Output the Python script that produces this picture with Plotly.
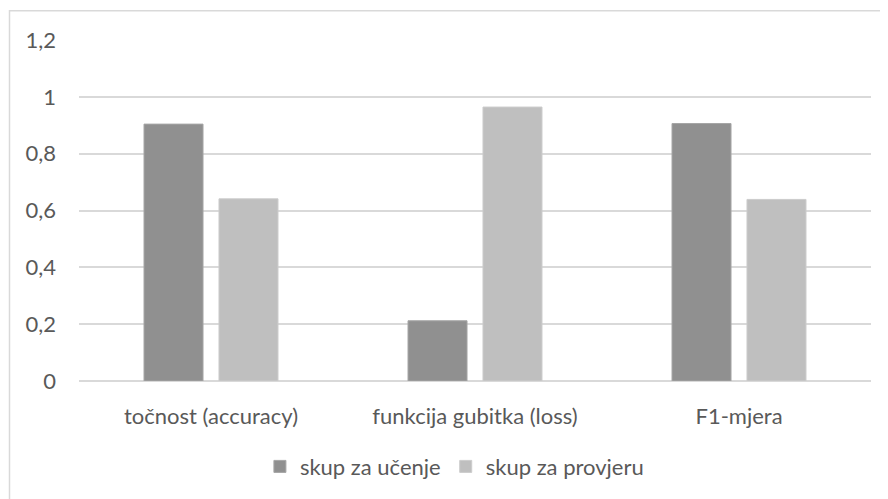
import plotly.graph_objects as go

categories = ["točnost (accuracy)", "funkcija gubitka (loss)", "F1-mjera"]
train_vals = [0.904, 0.212, 0.906]
val_vals = [0.641, 0.964, 0.639]
series_names = ["skup za učenje", "skup za provjeru"]
y_ticks = [0, 0.2, 0.4, 0.6, 0.8, 1.0, 1.2]
y_tick_labels = ["0", "0,2", "0,4", "0,6", "0,8", "1", "1,2"]

# page body has an 8px margin, so the figure is drawn 8px in from the window edge
W, H = 880, 491
L, R, T, B = 71, 17, 32, 116
pw, ph = W - L - R, H - T - B

fig = go.Figure()
fig.add_trace(go.Bar(x=categories, y=train_vals, name=series_names[0],
                     marker=dict(color="#909090", line=dict(color="#a6a6a6", width=1))))
fig.add_trace(go.Bar(x=categories, y=val_vals, name=series_names[1],
                     marker=dict(color="#bfbfbf", line=dict(color="#cccccc", width=1))))

font = dict(family="Lato, Open Sans, sans-serif", size=22, color="#595959")
legend_font = dict(family="Lato, Open Sans, sans-serif", size=22, color="#595959")

fig.update_layout(
    width=W, height=H,
    margin=dict(l=L, r=R, t=T, b=B),
    paper_bgcolor="white", plot_bgcolor="white",
    barmode="group", bargap=0.432, bargroupgap=0.213,
    font=font,
    showlegend=True,
    legend=dict(orientation="h", x=0.474, xanchor="center", y=-0.251, yanchor="middle",
                font=legend_font, itemwidth=30, traceorder="normal"),
    xaxis=dict(showgrid=False, showline=False, zeroline=False, ticks="",
               tickfont=font, ticklabelstandoff=20),
    yaxis=dict(range=[0, 1.2], tickvals=y_ticks, ticktext=y_tick_labels,
               showgrid=True, gridcolor="#d9d9d9", gridwidth=1.5,
               zeroline=True, zerolinecolor="#d9d9d9", zerolinewidth=1.5,
               showline=False, ticks="", tickfont=font, ticklabelstandoff=22),
    shapes=[dict(type="rect", xref="paper", yref="paper",
                 x0=(1.5 - L) / pw, x1=(W + 10 - L) / pw,
                 y0=(H - B - (H + 10)) / ph, y1=(H - B - 2.5) / ph,
                 line=dict(color="#d9d9d9", width=1.5), fillcolor="rgba(0,0,0,0)",
                 layer="below")],
)

fig.write_html("out.html")
